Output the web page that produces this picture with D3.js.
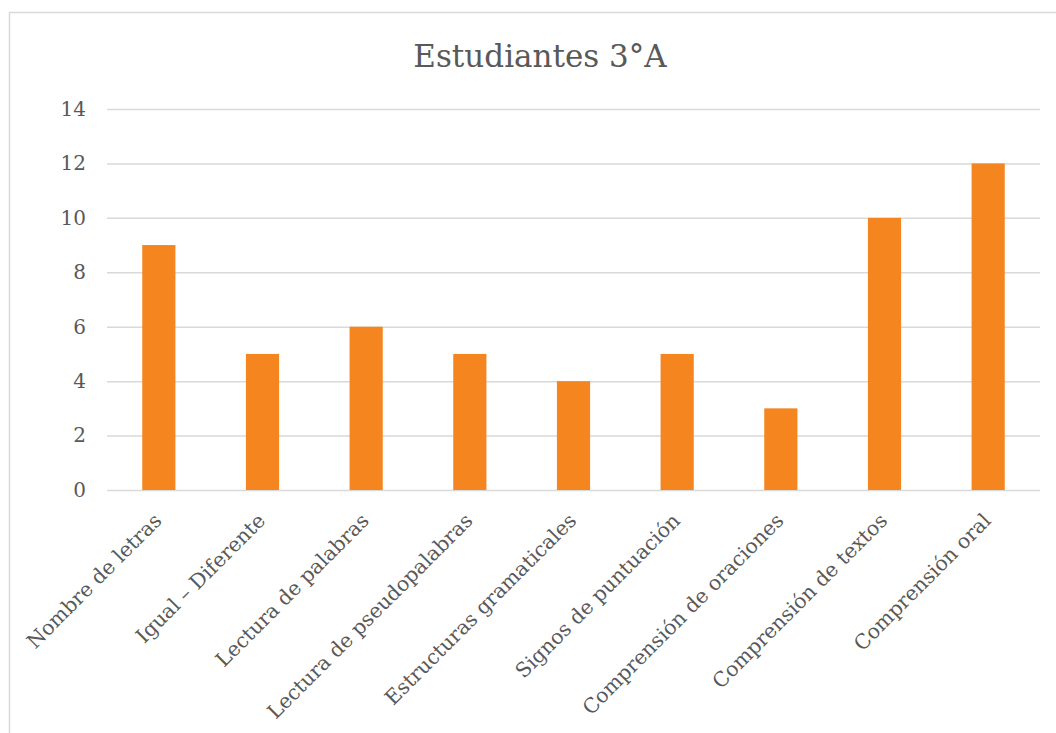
<!DOCTYPE html>
<html><head><meta charset="utf-8">
<script src="https://cdn.jsdelivr.net/npm/d3@7"></script>
<style>body{margin:0;background:#fff}</style>
</head><body>
<svg id="c" width="1056" height="733"></svg>
<script>
const categories = ["Nombre de letras","Igual – Diferente","Lectura de palabras","Lectura de pseudopalabras","Estructuras gramaticales","Signos de puntuación","Comprensión de oraciones","Comprensión de textos","Comprensión oral"];
const values = [9,5,6,5,4,5,3,10,12];
const yTicks = [0,2,4,6,8,10,12,14];
const title = "Estudiantes 3°A";

(function(){
const svg = d3.select("#c");
const font = "'DejaVu Serif', serif";
svg.append("rect").attr("x",9.5).attr("y",12.5).attr("width",1100).attr("height",800)
  .attr("fill","#fff").attr("stroke","#d9d9d9").attr("stroke-width",1.5);

const pl=107, pr=1040, pt=109, pb=490;
const x = d3.scaleBand().domain(categories).range([pl,pr]).paddingInner(0.68).paddingOuter(0.34);
const y = d3.scaleLinear().domain([0,14]).range([pb,pt]);

svg.append("text").attr("x",540).attr("y",67).attr("text-anchor","middle")
  .attr("font-family",font).attr("font-size",31).attr("fill","#595959").text(title);

const yAxis = d3.axisLeft(y).tickValues(yTicks).tickSize(-(pr-pl)).tickPadding(21);
const gy = svg.append("g").attr("transform",`translate(${pl},0)`).call(yAxis);
gy.select(".domain").remove();
gy.selectAll(".tick line").attr("stroke","#d9d9d9").attr("stroke-width",1.5);
gy.selectAll(".tick text").attr("font-family",font).attr("font-size",20).attr("fill","#595959");

svg.append("g").selectAll("rect").data(values).join("rect")
  .attr("x",(d,i)=>x(categories[i])).attr("width",x.bandwidth())
  .attr("y",d=>y(d)).attr("height",d=>y(0)-y(d)).attr("fill","#F5851F");

const xAxis = d3.axisBottom(x).tickSize(0).tickPadding(0);
const gx = svg.append("g").attr("transform",`translate(0,${pb})`).call(xAxis);
gx.select(".domain").remove();
gx.selectAll(".tick text").attr("font-family",font).attr("font-size",20.3).attr("fill","#595959")
  .attr("text-anchor","end").attr("dy",0)
  .attr("transform","translate(4,32) rotate(-45)").attr("y",0).attr("x",0);
})();
</script>
</body></html>
